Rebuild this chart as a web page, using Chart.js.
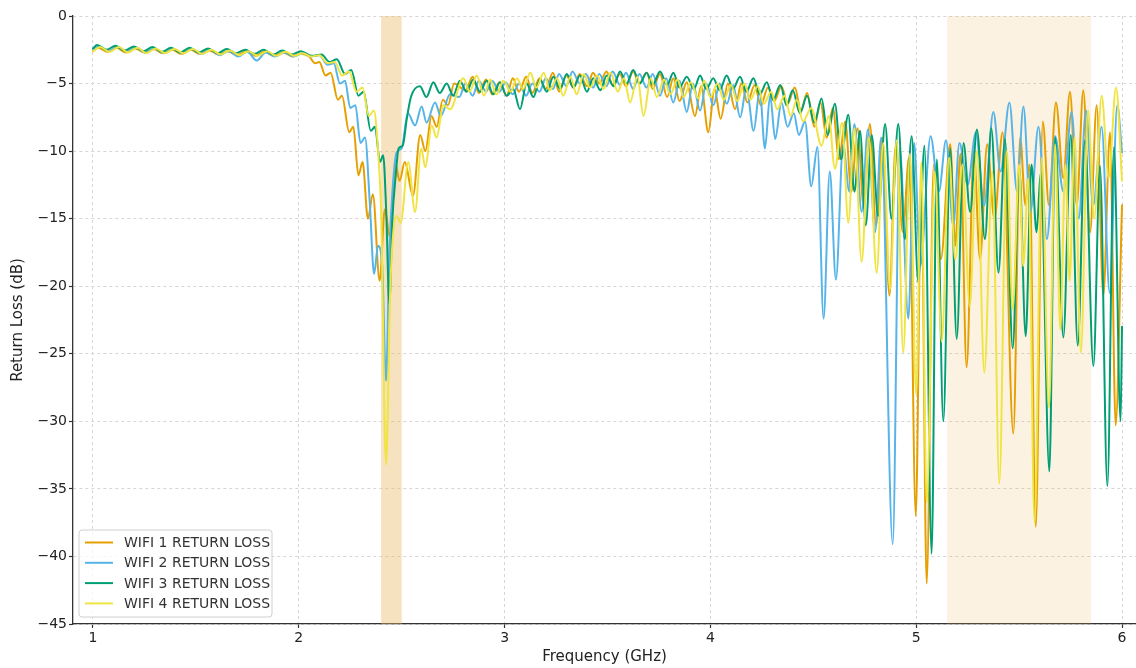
<!DOCTYPE html>
<html>
<head>
<meta charset="utf-8">
<title>WIFI Return Loss</title>
<script src="https://cdn.jsdelivr.net/npm/chart.js@4.4.1/dist/chart.umd.min.js"></script>
<style>
  html, body { margin: 0; padding: 0; background: #fff; }
  #wrap { width: 1136px; height: 668px; }
</style>
</head>
<body>
<div id="wrap"><canvas id="return-loss" width="1136" height="668"></canvas></div>
<script>
const seriesLabels = ["WIFI 1 RETURN LOSS", "WIFI 2 RETURN LOSS", "WIFI 3 RETURN LOSS", "WIFI 4 RETURN LOSS"];
const seriesColors = ["#E69F00", "#56B4E9", "#009E73", "#F0E442"];

const xTicks = [1, 2, 3, 4, 5, 6];
const yTicks = [0, -5, -10, -15, -20, -25, -30, -35, -40, -45];

// shaded WiFi bands (GHz)
const bandStart = [2.4, 5.15];
const bandEnd = [2.5, 5.85];

// turning points of each trace: frequency (GHz) / return loss (dB)
const wifi1Freq = [
  1.00, 1.025, 1.07, 1.115, 1.16, 1.205, 1.25, 1.295, 1.34, 1.385,
  1.43, 1.475, 1.52, 1.565, 1.61, 1.655, 1.70, 1.745, 1.79, 1.835,
  1.88, 1.925, 1.97, 2.01,
  2.05, 2.08, 2.10, 2.13, 2.155, 2.19, 2.21, 2.245, 2.265, 2.29,
  2.31, 2.336, 2.36, 2.393, 2.418, 2.443, 2.47, 2.49, 2.515, 2.555,
  2.59, 2.615, 2.645, 2.67, 2.70, 2.725, 2.755,
  2.81, 2.845, 2.875, 2.91, 2.94, 2.975, 3.01, 3.04, 3.07, 3.105,
  3.135, 3.17, 3.20, 3.235, 3.265, 3.30, 3.335, 3.365, 3.40, 3.43,
  3.46, 3.495, 3.525, 3.56, 3.59, 3.625, 3.655, 3.69, 3.72, 3.755,
  3.79, 3.82, 3.85, 3.885, 3.925, 3.955, 3.99, 4.02, 4.05, 4.085,
  4.12, 4.15, 4.18, 4.215, 4.245, 4.28, 4.31, 4.345, 4.375, 4.41,
  4.44, 4.47, 4.505, 4.535, 4.565, 4.595, 4.625, 4.655, 4.685, 4.715,
  4.745, 4.775, 4.805, 4.835, 4.87, 4.90, 4.935, 4.965, 4.998, 5.025,
  5.051, 5.085, 5.12, 5.165, 5.19, 5.215, 5.245, 5.28, 5.31, 5.345,
  5.38, 5.42, 5.472, 5.505, 5.531, 5.55, 5.581, 5.615, 5.645, 5.679,
  5.715, 5.747, 5.78, 5.812, 5.845, 5.877, 5.909, 5.942, 5.969, 6.00
];
const wifi1Loss = [
  -2.6, -2.35, -2.65, -2.35, -2.7, -2.4, -2.7, -2.45, -2.75, -2.5,
  -2.8, -2.5, -2.8, -2.55, -2.85, -2.6, -2.9, -2.6, -2.95, -2.65,
  -2.95, -2.7, -3.0, -2.8,
  -3.0, -3.5, -3.4, -4.4, -4.2, -6.2, -5.9, -8.6, -8.2, -11.8,
  -10.8, -15.0, -13.2, -19.6, -14.3, -16.4, -11.0, -12.2, -10.8, -13.3,
  -8.8, -10.0, -7.4, -8.2, -6.2, -6.6, -5.0,
  -5.5, -4.5, -5.7, -4.7, -5.8, -4.9, -5.9, -4.6, -5.6, -4.5,
  -5.7, -4.6, -5.4, -4.2, -5.6, -4.4, -5.3, -4.3, -5.2, -4.2,
  -5.0, -4.1, -5.1, -4.3, -5.2, -4.1, -5.0, -4.2, -5.4, -4.3,
  -6.0, -4.6, -6.3, -4.9, -7.4, -5.2, -8.6, -5.4, -7.6, -5.0,
  -6.9, -5.0, -6.4, -5.1, -6.6, -5.3, -6.3, -5.2, -6.5, -5.3,
  -7.0, -5.7, -8.2, -6.4, -9.0, -6.8, -10.6, -7.8, -13.0, -8.3,
  -14.2, -8.0, -15.5, -9.0, -20.7, -9.6, -16.0, -10.5, -37.0, -12.0,
  -42.0, -11.0, -18.0, -9.5, -17.0, -10.2, -26.0, -10.0, -18.0, -9.5,
  -15.0, -8.6, -30.9, -9.0, -14.0, -11.0, -37.8, -7.8, -14.0, -6.4,
  -12.0, -5.6, -14.0, -5.5, -16.0, -6.6, -20.7, -8.6, -30.3, -14.0
];

const wifi2Freq = [
  1.00, 1.03, 1.075, 1.12, 1.165, 1.21, 1.255, 1.30, 1.345, 1.39,
  1.435, 1.48, 1.525, 1.57, 1.615, 1.66, 1.705, 1.75, 1.795, 1.84,
  1.885, 1.93, 1.975, 2.02,
  2.06, 2.10, 2.14, 2.17, 2.20, 2.225, 2.25, 2.275, 2.30, 2.322,
  2.345, 2.366, 2.385, 2.405, 2.424, 2.44, 2.455, 2.475, 2.50, 2.53,
  2.565, 2.597, 2.621, 2.662, 2.69, 2.735,
  2.78, 2.81, 2.845, 2.875, 2.91, 2.94, 2.975, 3.005, 3.04, 3.07,
  3.105, 3.135, 3.17, 3.20, 3.235, 3.265, 3.30, 3.33, 3.365, 3.395,
  3.43, 3.46, 3.495, 3.525, 3.56, 3.59, 3.625, 3.655, 3.69, 3.72,
  3.755, 3.785, 3.82, 3.85, 3.885, 3.915, 3.95, 3.98, 4.015, 4.045,
  4.08, 4.11, 4.145, 4.175, 4.21, 4.24, 4.265, 4.29, 4.315, 4.345,
  4.375, 4.405, 4.43, 4.46, 4.49, 4.52, 4.55, 4.58, 4.61, 4.645,
  4.675, 4.70, 4.735, 4.765, 4.80, 4.83, 4.886, 4.92, 4.962, 4.99,
  5.02, 5.07, 5.11, 5.145, 5.18, 5.21, 5.25, 5.29, 5.33, 5.375,
  5.41, 5.453, 5.49, 5.521, 5.555, 5.594, 5.635, 5.675, 5.715, 5.755,
  5.79, 5.825, 5.86, 5.901, 5.94, 5.977, 6.00
];
const wifi2Loss = [
  -2.5, -2.25, -2.6, -2.3, -2.65, -2.35, -2.7, -2.4, -2.75, -2.45,
  -2.75, -2.45, -2.8, -2.5, -2.9, -2.6, -3.0, -2.65, -3.3, -2.7,
  -3.0, -2.7, -3.0, -2.75,
  -3.0, -2.9, -3.6, -3.5, -5.0, -4.8, -6.8, -6.6, -9.4, -9.0,
  -13.8, -19.1, -17.0, -18.4, -27.0, -17.5, -13.0, -10.1, -9.8, -7.2,
  -8.1, -6.7, -7.9, -6.4, -7.4, -5.8,
  -6.0, -5.0, -5.9, -4.8, -5.6, -4.8, -5.6, -4.9, -5.8, -5.0,
  -5.9, -5.0, -5.6, -4.6, -5.4, -4.3, -5.2, -4.1, -5.0, -4.3,
  -5.3, -4.3, -5.2, -4.1, -5.1, -4.2, -5.4, -4.3, -5.3, -4.3,
  -5.9, -4.6, -6.4, -4.8, -7.1, -5.0, -7.0, -5.0, -6.6, -5.0,
  -6.5, -5.1, -7.5, -5.3, -8.5, -5.5, -9.8, -5.9, -9.1, -6.4,
  -8.2, -7.2, -8.8, -7.8, -12.6, -9.7, -22.4, -11.5, -19.5, -9.5,
  -13.0, -8.0, -14.5, -8.4, -16.0, -9.0, -39.1, -9.8, -22.4, -9.4,
  -18.5, -8.9, -13.0, -9.2, -15.5, -9.4, -12.5, -8.6, -14.0, -7.1,
  -11.5, -6.4, -13.0, -6.7, -14.5, -8.2, -16.5, -8.9, -13.0, -7.1,
  -15.0, -7.0, -14.0, -8.2, -20.5, -6.6, -10.1
];

const wifi3Freq = [
  1.00, 1.02, 1.065, 1.11, 1.155, 1.20, 1.245, 1.29, 1.335, 1.38,
  1.425, 1.47, 1.515, 1.56, 1.605, 1.65, 1.695, 1.74, 1.785, 1.83,
  1.875, 1.92, 1.965, 2.01,
  2.065, 2.11, 2.15, 2.185, 2.225, 2.255, 2.29, 2.315, 2.35, 2.37,
  2.395, 2.41, 2.425, 2.44, 2.455, 2.47, 2.485, 2.505, 2.525, 2.545,
  2.589, 2.62, 2.654, 2.685, 2.719, 2.75, 2.783, 2.815, 2.848, 2.88,
  2.913, 2.945, 2.978, 3.01, 3.042, 3.075, 3.107, 3.14, 3.172, 3.205,
  3.237, 3.27, 3.302, 3.335, 3.366, 3.40, 3.431, 3.465, 3.496, 3.53,
  3.561, 3.593, 3.625, 3.657, 3.69, 3.72, 3.755, 3.79, 3.82, 3.85,
  3.885, 3.92, 3.95, 3.98, 4.014, 4.045, 4.079, 4.11, 4.144, 4.175,
  4.209, 4.24, 4.274, 4.305, 4.34, 4.37, 4.40, 4.435, 4.47, 4.505,
  4.54, 4.57, 4.605, 4.635, 4.67, 4.70, 4.727, 4.755, 4.784, 4.815,
  4.849, 4.88, 4.913, 4.945, 4.978, 5.01, 5.04, 5.075, 5.10, 5.132,
  5.165, 5.197, 5.23, 5.262, 5.295, 5.334, 5.365, 5.40, 5.431, 5.469,
  5.501, 5.532, 5.56, 5.585, 5.605, 5.647, 5.675, 5.715, 5.751, 5.785,
  5.82, 5.861, 5.893, 5.929, 5.961, 5.993, 6.00
];
const wifi3Loss = [
  -2.4, -2.15, -2.5, -2.2, -2.55, -2.25, -2.6, -2.3, -2.65, -2.35,
  -2.7, -2.35, -2.7, -2.4, -2.75, -2.45, -2.75, -2.5, -2.8, -2.5,
  -2.85, -2.55, -2.85, -2.6,
  -2.95, -2.85, -3.4, -3.2, -4.3, -4.0, -5.9, -5.6, -8.5, -8.2,
  -10.8, -10.3, -14.5, -21.3, -15.0, -12.0, -9.8, -9.6, -7.6, -6.0,
  -5.2, -6.0, -4.9, -5.7, -5.0, -5.9, -4.8, -5.6, -4.7, -5.6,
  -4.8, -5.8, -4.9, -5.9, -5.4, -6.9, -5.0, -6.0, -4.7, -5.6,
  -4.5, -5.4, -4.3, -5.3, -4.4, -5.6, -4.6, -5.5, -4.4, -5.2,
  -4.1, -5.0, -4.0, -5.0, -4.2, -5.1, -4.1, -5.1, -4.2, -5.3,
  -4.5, -5.4, -4.4, -5.4, -4.6, -5.5, -4.4, -5.4, -4.5, -5.6,
  -4.6, -5.8, -4.9, -6.2, -5.1, -6.6, -5.5, -7.2, -5.9, -7.9,
  -6.1, -8.8, -6.5, -10.6, -7.3, -13.0, -8.5, -15.5, -8.8, -14.8,
  -8.0, -15.0, -8.0, -16.5, -8.9, -19.7, -9.6, -39.8, -10.6, -30.0,
  -9.8, -23.9, -9.4, -14.5, -8.4, -16.5, -8.3, -19.0, -9.1, -24.6,
  -11.2, -23.7, -11.0, -16.0, -11.6, -33.7, -9.0, -23.8, -8.8, -24.4,
  -9.2, -25.9, -11.1, -34.8, -9.7, -30.0, -23.0
];

const wifi4Freq = [
  1.00, 1.035, 1.08, 1.125, 1.17, 1.215, 1.26, 1.305, 1.35, 1.395,
  1.44, 1.485, 1.53, 1.575, 1.62, 1.665, 1.71, 1.755, 1.80, 1.845,
  1.89, 1.935, 1.98, 2.02,
  2.06, 2.10, 2.14, 2.175, 2.21, 2.245, 2.28, 2.31, 2.34, 2.365,
  2.385, 2.40, 2.424, 2.445, 2.475, 2.495, 2.532, 2.565, 2.595, 2.615,
  2.646, 2.67, 2.702, 2.735,
  2.80, 2.83, 2.865, 2.90, 2.93, 2.96, 2.995, 3.03, 3.06, 3.09,
  3.125, 3.155, 3.19, 3.22, 3.255, 3.285, 3.32, 3.35, 3.385, 3.415,
  3.45, 3.48, 3.515, 3.55, 3.58, 3.61, 3.645, 3.675, 3.71, 3.74,
  3.775, 3.805, 3.84, 3.87, 3.905, 3.94, 3.97, 4.00, 4.035, 4.065,
  4.10, 4.13, 4.165, 4.195, 4.23, 4.26, 4.295, 4.325, 4.36, 4.39,
  4.42, 4.45, 4.49, 4.54, 4.575, 4.605, 4.64, 4.67, 4.70, 4.735,
  4.77, 4.808, 4.84, 4.873, 4.905, 4.937, 4.97, 5.00, 5.025, 5.051,
  5.09, 5.124, 5.16, 5.19, 5.225, 5.26, 5.295, 5.331, 5.37, 5.404,
  5.44, 5.469, 5.50, 5.52, 5.545, 5.575, 5.61, 5.645, 5.675, 5.70,
  5.725, 5.745, 5.77, 5.80, 5.835, 5.865, 5.901, 5.935, 5.971, 6.00
];
const wifi4Loss = [
  -2.6, -2.3, -2.65, -2.3, -2.7, -2.35, -2.75, -2.4, -2.75, -2.45,
  -2.75, -2.45, -2.8, -2.5, -2.85, -2.55, -2.9, -2.6, -2.95, -2.6,
  -2.95, -2.65, -2.95, -2.75,
  -3.0, -2.9, -3.5, -3.4, -4.4, -4.1, -5.6, -5.3, -7.4, -7.0,
  -9.9, -14.5, -33.2, -20.0, -14.8, -15.3, -10.8, -14.5, -9.8, -11.2,
  -8.1, -9.0, -6.6, -6.9,
  -4.6, -5.6, -4.4, -5.9, -4.7, -5.8, -4.8, -5.6, -4.6, -5.4,
  -4.2, -5.3, -4.2, -5.5, -4.6, -5.9, -4.5, -5.8, -4.3, -5.3,
  -4.4, -5.4, -4.2, -5.6, -4.6, -6.4, -4.5, -7.4, -4.6, -6.0,
  -4.7, -5.8, -4.7, -6.0, -4.9, -6.1, -4.8, -6.0, -5.0, -6.2,
  -5.1, -6.3, -5.0, -6.2, -5.2, -6.5, -5.6, -6.9, -5.9, -7.4,
  -6.2, -7.8, -6.8, -9.6, -7.4, -11.3, -7.9, -15.3, -8.3, -18.2,
  -9.0, -19.0, -9.4, -20.2, -9.2, -24.9, -10.2, -28.0, -10.8, -36.0,
  -11.5, -24.1, -10.5, -18.0, -11.0, -21.5, -10.0, -26.4, -11.5, -34.6,
  -10.0, -21.7, -11.0, -18.5, -12.0, -37.5, -10.5, -29.0, -9.5, -23.2,
  -11.0, -19.6, -9.0, -24.9, -7.0, -15.0, -5.9, -12.0, -5.3, -12.2
];

const freqs = [wifi1Freq, wifi2Freq, wifi3Freq, wifi4Freq];
const losses = [wifi1Loss, wifi2Loss, wifi3Loss, wifi4Loss];

const FONT = "'DejaVu Sans', sans-serif";

function toPoints(f, l) {
    if (f.length !== l.length) console.warn("length mismatch", f.length, l.length);
    return f.map((v, i) => ({ x: v, y: l[i] }));
}

// light orange spans behind the traces
const bandShade = {
    id: "bandShade",
    beforeDatasetsDraw(chart) {
        const { ctx, chartArea, scales } = chart;
        const alphas = [0.4, 0.18];
        ctx.save();
        bandStart.forEach((s, i) => {
            const x0 = scales.x.getPixelForValue(s);
            const x1 = scales.x.getPixelForValue(bandEnd[i]);
            ctx.fillStyle = "rgba(232,182,92," + alphas[i] + ")";
            ctx.fillRect(x0, chartArea.top, x1 - x0, chartArea.bottom - chartArea.top);
        });
        ctx.restore();
    }
};

// matplotlib-like boxed legend in the lower left corner
const cornerLegend = {
    id: "cornerLegend",
    afterDatasetsDraw(chart) {
        const { ctx, chartArea } = chart;
        const w = 193, h = 87, r = 3;
        const x = chartArea.left + 6;
        const y = chartArea.bottom - 7 - h;
        ctx.save();
        ctx.beginPath();
        ctx.moveTo(x + r, y);
        ctx.lineTo(x + w - r, y);
        ctx.quadraticCurveTo(x + w, y, x + w, y + r);
        ctx.lineTo(x + w, y + h - r);
        ctx.quadraticCurveTo(x + w, y + h, x + w - r, y + h);
        ctx.lineTo(x + r, y + h);
        ctx.quadraticCurveTo(x, y + h, x, y + h - r);
        ctx.lineTo(x, y + r);
        ctx.quadraticCurveTo(x, y, x + r, y);
        ctx.closePath();
        ctx.fillStyle = "rgba(255,255,255,0.8)";
        ctx.fill();
        ctx.strokeStyle = "#d0d0d0";
        ctx.lineWidth = 1;
        ctx.stroke();

        ctx.font = "14px " + FONT;
        ctx.textBaseline = "middle";
        ctx.fillStyle = "#333";
        chart.data.datasets.forEach((ds, i) => {
            const ry = y + 12.5 + i * 20.3;
            ctx.strokeStyle = ds.borderColor;
            ctx.lineWidth = 2;
            ctx.beginPath();
            ctx.moveTo(x + 6, ry);
            ctx.lineTo(x + 34, ry);
            ctx.stroke();
            ctx.fillText(ds.label, x + 45, ry + 1);
        });
        ctx.restore();
    }
};

const datasets = seriesLabels.map((label, i) => ({
    label: label,
    data: toPoints(freqs[i], losses[i]),
    borderColor: seriesColors[i],
    backgroundColor: seriesColors[i],
    borderWidth: 2,
    pointRadius: 0,
    fill: false,
    cubicInterpolationMode: "monotone",
    borderCapStyle: "round",
    order: seriesLabels.length - 1 - i
}));

new Chart(document.getElementById("return-loss").getContext("2d"), {
    type: "line",
    data: { datasets: datasets },
    options: {
        responsive: false,
        animation: false,
        layout: { padding: { top: 16, right: 0, bottom: 0, left: 0 } },
        plugins: { legend: { display: false }, tooltip: { enabled: false } },
        scales: {
            x: {
                type: "linear",
                min: 0.903,
                max: 6.068,
                afterBuildTicks: axis => { axis.ticks = xTicks.map(v => ({ value: v })); },
                afterFit: axis => { axis.height = 44; },
                grid: { color: "#d6d6d6", lineWidth: 1, tickLength: 4, tickColor: "#333", tickWidth: 1.2 },
                border: { color: "#333", width: 1.3, dash: [3, 3] },
                ticks: { color: "#222", font: { family: FONT, size: 14 }, padding: 2, maxRotation: 0, callback: v => String(v) },
                title: { display: true, text: "Frequency (GHz)", color: "#222", font: { family: FONT, size: 15 }, padding: { top: 0, bottom: 2 } }
            },
            y: {
                type: "linear",
                min: -45,
                max: 0,
                afterBuildTicks: axis => { axis.ticks = yTicks.map(v => ({ value: v })); },
                afterFit: axis => { axis.width = 73; },
                grid: { color: "#d6d6d6", lineWidth: 1, tickLength: 4, tickColor: "#333", tickWidth: 1.2 },
                border: { color: "#333", width: 1.3, dash: [3, 3] },
                ticks: { color: "#222", font: { family: FONT, size: 14 }, padding: 2, callback: v => v < 0 ? "\u2212" + (-v) : String(v) },
                title: { display: true, text: "Return Loss (dB)", color: "#222", font: { family: FONT, size: 15 }, padding: { top: 9, bottom: 0 } }
            }
        }
    },
    plugins: [bandShade, cornerLegend]
});
</script>
</body>
</html>
